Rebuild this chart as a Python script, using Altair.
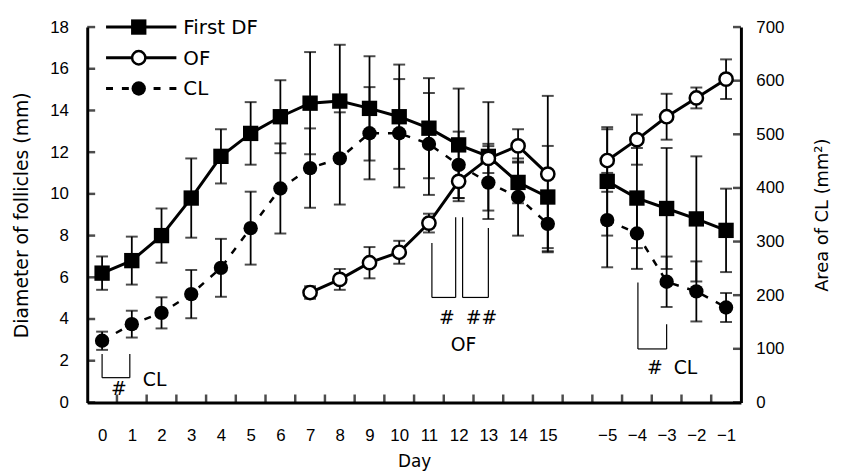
import json
import altair as alt
import pandas as pd

# ---------------- data ----------------
slot_labels = [str(d) for d in range(16)] + [""] + ["−5", "−4", "−3", "−2", "−1"]
main_slots = list(range(16))            # days 0..15
of_main_slots = list(range(7, 16))      # OF measured from day 7
pre_slots = [17, 18, 19, 20, 21]        # days -5..-1 before next ovulation

first_df_main = [6.2, 6.8, 8.0, 9.8, 11.8, 12.9, 13.7, 14.35, 14.45, 14.1, 13.7, 13.15, 12.35, 11.8, 10.55, 9.85]
first_df_main_sd = [0.8, 1.15, 1.3, 1.9, 1.3, 1.5, 1.75, 2.45, 2.7, 2.5, 2.5, 2.4, 2.7, 2.6, 1.0, 2.45]
first_df_pre = [10.6, 9.8, 9.3, 8.8, 8.25]
first_df_pre_sd = [2.6, 2.4, 2.9, 3.0, 2.0]

of_main = [5.27, 5.9, 6.7, 7.2, 8.6, 10.6, 11.7, 12.3, 10.95]
of_main_sd = [0.3, 0.5, 0.75, 0.55, 0.45, 0.8, 0.7, 0.8, 3.75]
of_pre = [11.6, 12.6, 13.7, 14.6, 15.5]
of_pre_sd = [1.5, 1.2, 1.1, 0.5, 0.95]

cl_main = [115, 146, 167, 202, 251, 325, 399, 437, 455, 502, 502, 482, 443, 410, 383, 333]
cl_main_sd = [17, 25, 29, 45, 54, 68, 84, 74, 86, 86, 101, 95, 62, 68, 72, 51]
cl_pre = [340, 315, 225, 207, 177]
cl_pre_sd = [88, 66, 47, 56, 27]

left_ticks = list(range(0, 19, 2))
right_ticks = list(range(0, 701, 100))
x_boundaries = list(range(1, 22))


def rows(series, seg, slots, vals, sds):
    return [dict(series=series, seg=seg, x=s + 0.5, val=v, sd=e)
            for s, v, e in zip(slots, vals, sds)]


dfa = pd.DataFrame(rows("First DF", "main", main_slots, first_df_main, first_df_main_sd)
                   + rows("First DF", "pre", pre_slots, first_df_pre, first_df_pre_sd))
ofa = pd.DataFrame(rows("OF", "main", of_main_slots, of_main, of_main_sd)
                   + rows("OF", "pre", pre_slots, of_pre, of_pre_sd))
cla = pd.DataFrame(rows("CL", "main", main_slots, cl_main, cl_main_sd)
                   + rows("CL", "pre", pre_slots, cl_pre, cl_pre_sd))
for d in (dfa, ofa, cla):
    d["lo"] = d["val"] - d["sd"]
    d["hi"] = d["val"] + d["sd"]

# ---------------- styling ----------------
W, H = 660, 379
N_SLOTS = 22
TICK_LEN = 8  # px, inward ticks
TICK_FONT = "Liberation Sans"
TEXT_FONT = "DejaVu Sans"
BLACK = "black"

x_scale = alt.Scale(domain=[0, N_SLOTS], nice=False, zero=False)
x_axis = alt.Axis(
    values=[i + 0.5 for i, l in enumerate(slot_labels) if l != ""],
    labelExpr=json.dumps(slot_labels, ensure_ascii=False) + "[floor(datum.value)]",
    ticks=False, grid=False, domainWidth=3, domainColor=BLACK,
    labelFont=TICK_FONT, labelFontSize=17, labelPadding=25, labelColor=BLACK, labelAngle=0,
    title="Day", titleFont=TEXT_FONT, titleFontSize=17, titleFontWeight="normal",
    titleColor=BLACK, titleX=W / 2, titleY=60, titleAlign="center", titleBaseline="middle",
)
yl_scale = alt.Scale(domain=[0, 18], nice=False, zero=True)
yl_axis = alt.Axis(
    orient="left", values=left_ticks, ticks=False, grid=False, domainWidth=3, domainColor=BLACK,
    labelFont=TICK_FONT, labelFontSize=17, labelPadding=19, labelColor=BLACK,
    title="Diameter of follicles (mm)", titleFont=TEXT_FONT, titleFontSize=19,
    titleFontWeight="normal", titleColor=BLACK, titleAngle=-90, titleX=-66, titleY=H / 2,
    titleAlign="center", titleBaseline="middle",
)
yr_scale = alt.Scale(domain=[0, 700], nice=False, zero=True)
yr_axis = alt.Axis(
    orient="right", values=right_ticks, ticks=False, grid=False, domainWidth=3, domainColor=BLACK,
    labelFont=TICK_FONT, labelFontSize=17, labelPadding=15, labelColor=BLACK,
    title="Area of CL (mm²)", titleFont=TEXT_FONT, titleFontSize=18,
    titleFontWeight="normal", titleColor=BLACK, titleAngle=-90, titleX=82, titleY=H / 2,
    titleAlign="center", titleBaseline="middle",
)


def X(f):
    return alt.X(f, type="quantitative", scale=x_scale, axis=x_axis)


def YL(f):
    return alt.Y(f, type="quantitative", scale=yl_scale, axis=yl_axis)


def YR(f):
    return alt.Y(f, type="quantitative", scale=yr_scale, axis=yr_axis)


def series_layers(data, Y, shape_mark, dash=None):
    line_kw = dict(color=BLACK, strokeWidth=3)
    if dash:
        line_kw = dict(color=BLACK, strokeWidth=2.5, strokeDash=dash)
    base = alt.Chart(data)
    line = base.mark_line(**line_kw).encode(x=X("x"), y=Y("val"), detail="seg:N")
    err = base.mark_rule(color=BLACK, strokeWidth=1.8).encode(x=X("x"), y=Y("lo"), y2="hi")
    cap_lo = base.mark_tick(color=BLACK, orient="horizontal", size=12, thickness=2).encode(x=X("x"), y=Y("lo"))
    cap_hi = base.mark_tick(color=BLACK, orient="horizontal", size=12, thickness=2).encode(x=X("x"), y=Y("hi"))
    pts = base.mark_point(**shape_mark).encode(x=X("x"), y=Y("val"))
    return [line, err, cap_lo, cap_hi], pts


sq_mark = dict(shape="square", filled=True, color=BLACK, size=240, opacity=1)
of_mark = dict(shape="circle", filled=False, fill="white", fillOpacity=1, stroke=BLACK,
               strokeWidth=2.5, size=180, opacity=1)
cl_mark = dict(shape="circle", filled=True, color=BLACK, size=210, opacity=1)
CL_DASH = [7, 9]

df_lines, df_pts = series_layers(dfa, YL, sq_mark)
of_lines, of_pts = series_layers(ofa, YL, of_mark)
cl_lines, cl_pts = series_layers(cla, YR, cl_mark, dash=CL_DASH)

# inward axis ticks drawn as tick marks through the scales
xt_df = pd.DataFrame({"b": x_boundaries, "y0": 0.0})
ylt_df = pd.DataFrame({"t": left_ticks, "x0": 0.0})
yrt_df = pd.DataFrame({"t": right_ticks, "x0": float(N_SLOTS)})

xt = alt.Chart(xt_df).mark_tick(color=BLACK, orient="vertical", size=TICK_LEN, thickness=2.5,
                                yOffset=-TICK_LEN / 2).encode(x=X("b"), y=YL("y0"))
ylt = alt.Chart(ylt_df).mark_tick(color=BLACK, orient="horizontal", size=TICK_LEN, thickness=2.5,
                                  xOffset=TICK_LEN / 2).encode(x=X("x0"), y=YL("t"))
yrt = alt.Chart(yrt_df).mark_tick(color=BLACK, orient="horizontal", size=TICK_LEN, thickness=2.5,
                                  xOffset=-TICK_LEN / 2).encode(x=X("x0"), y=YR("t"))

# legend (pixel layout inside plot area)
one = alt.Data(values=[{}])
legend_rows = [("First DF", 0, sq_mark, None), ("OF", 31, of_mark, None), ("CL", 62, cl_mark, CL_DASH)]
legend_layers = []
for name, ry, mk, dash in legend_rows:
    kw = dict(color=BLACK, strokeWidth=3)
    if dash:
        kw = dict(color=BLACK, strokeWidth=3, strokeDash=dash)
    legend_layers.append(alt.Chart(one).mark_rule(**kw).encode(
        x=alt.value(19), x2=alt.value(90), y=alt.value(ry), y2=alt.value(ry)))
    legend_layers.append(alt.Chart(one).mark_point(**mk).encode(x=alt.value(52), y=alt.value(ry)))
    legend_layers.append(alt.Chart(one).mark_text(
        text=name, align="left", baseline="middle", font=TEXT_FONT, fontSize=20, color=BLACK
    ).encode(x=alt.value(97), y=alt.value(ry + 1)))

# significance brackets (pixel layout inside plot area)
bracket_segments = [
    (15, 330, 15, 354), (43, 330, 43, 354), (15, 354, 43, 354),
    (348, 218, 348, 273), (372, 192, 372, 273), (348, 273, 372, 273),
    (379, 192, 379, 273), (405, 203, 405, 273), (379, 273, 405, 273),
    (556, 258, 556, 325), (585, 300, 585, 325), (556, 325, 585, 325),
]
bracket_texts = [
    ("#", 32, 366), ("CL", 68, 356),
    ("#", 363, 294), ("##", 398, 294), ("OF", 380, 321),
    ("#", 573, 344), ("CL", 604, 344),
]
ann_layers = []
for x1, y1, x2, y2 in bracket_segments:
    ann_layers.append(alt.Chart(one).mark_rule(color=BLACK, strokeWidth=1.2).encode(
        x=alt.value(x1), y=alt.value(y1), x2=alt.value(x2), y2=alt.value(y2)))
for t, tx, ty in bracket_texts:
    ann_layers.append(alt.Chart(one).mark_text(
        text=t, align="center", baseline="middle", font=TEXT_FONT, fontSize=19, color=BLACK
    ).encode(x=alt.value(tx), y=alt.value(ty)))

right_group = alt.layer(*cl_lines, cl_pts, yrt)
left_group = alt.layer(*df_lines, *of_lines, df_pts, of_pts, xt, ylt, *legend_layers, *ann_layers)

chart = alt.layer(right_group, left_group).resolve_scale(y="independent").properties(
    width=W, height=H,
    padding={"left": 80, "top": 17, "right": 96, "bottom": 67},
    autosize=alt.AutoSizeParams(type="none"),
    background="white",
).configure_view(stroke=None)

chart.save("out.html", embed_options={"renderer": "svg", "actions": False})
